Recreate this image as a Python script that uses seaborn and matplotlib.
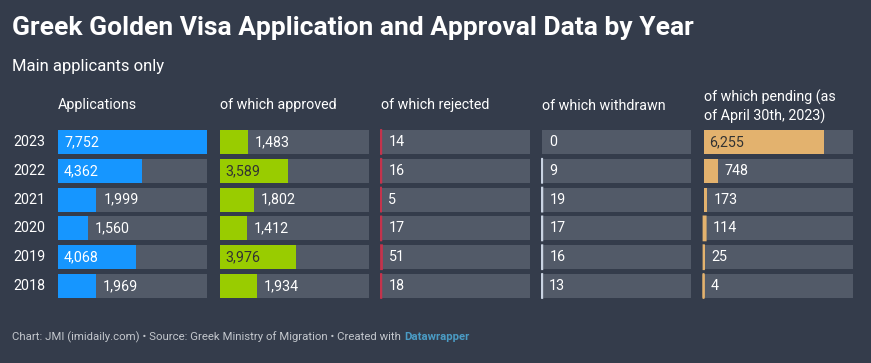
import matplotlib
matplotlib.use("Agg")
import matplotlib.pyplot as plt
import seaborn as sns
import pandas as pd
import numpy as np

years = ["2023", "2022", "2021", "2020", "2019", "2018"]
applications = [7752, 4362, 1999, 1560, 4068, 1969]
approved = [1483, 3589, 1802, 1412, 3976, 1934]
rejected = [14, 16, 5, 17, 51, 18]
withdrawn = [0, 9, 19, 17, 16, 13]
pending = [6255, 748, 173, 114, 25, 4]

headers = ["Applications", "of which approved", "of which rejected",
           "of which withdrawn", "of which pending (as\nof April 30th, 2023)"]
series = [applications, approved, rejected, withdrawn, pending]
colors = ["#1696ff", "#99cc00", "#c4334c", "#c9d3e2", "#e3b26e"]
inside_text = ["#ffffff", "#333333", "#333333", "#333333", "#333333"]

BG = "#343c4b"
TRACK = "#525a68"

sns.set_theme(style="white")
plt.rcParams["font.family"] = ["Roboto", "DejaVu Sans"]

W, H = 871, 363
fig = plt.figure(figsize=(W / 100, H / 100), dpi=100)
fig.patch.set_facecolor(BG)

vmax = max(applications)
col_x = [58, 219.5, 381, 542, 703.5]
col_w = 149
top, bot = 130, 298
pitch = (bot - top - 24) / 5
bw = 24 / pitch

fig.text(12 / W, 1 - 28.5 / H, "Greek Golden Visa Application and Approval Data by Year",
         color="white", fontsize=19, fontweight="bold", va="center", ha="left")
fig.text(12 / W, 1 - 66.5 / H, "Main applicants only", color="white",
         fontsize=12, va="center", ha="left")

for yi, yr in enumerate(years):
    fig.text(13 / W, 1 - (top + 12 + yi * pitch) / H, yr, color="white",
             fontsize=10.3, va="center", ha="left")

for ci, (vals, hdr, col, tcol) in enumerate(zip(series, headers, colors, inside_text)):
    ax = fig.add_axes([col_x[ci] / W, 1 - bot / H, col_w / W, (bot - top) / H])
    df = pd.DataFrame({"year": years, "value": vals, "track": [vmax] * len(years)})
    sns.barplot(data=df, x="track", y="year", orient="h", color=TRACK,
                width=bw, ax=ax, saturation=1)
    sns.barplot(data=df, x="value", y="year", orient="h", color=col,
                width=bw, ax=ax, saturation=1)
    # make very thin bars visible with a minimum edge width
    n = len(years)
    for p, v in zip(ax.patches[n:], vals):
        if 0 < v < vmax * 2.5 / col_w:
            p.set_edgecolor(col)
            p.set_linewidth(1.3)
            p.set_snap(False)
            p.set_clip_on(False)
            p.set_joinstyle("miter")
        else:
            p.set_linewidth(0)
    for p in ax.patches[:n]:
        p.set_linewidth(0)
    ax.set_xlim(0, vmax)
    ax.set_ylim(n - 1 + bw / 2, -bw / 2)
    ax.axis("off")
    for yi, v in enumerate(vals):
        lab = f"{v:,}"
        if v > 3000:
            ax.text(vmax * 6 / col_w, yi, lab, color=tcol, fontsize=10.3,
                    va="center", ha="left")
        else:
            ax.text(v + vmax * 7 / col_w, yi, lab, color="white", fontsize=10.3,
                    va="center", ha="left")
    if "\n" in hdr:
        fig.text(col_x[ci] / W, 1 - 106.5 / H, hdr, color="white", fontsize=10.3,
                 va="center", ha="left", linespacing=1.3)
    else:
        fig.text(col_x[ci] / W, 1 - 105.5 / H, hdr, color="white", fontsize=10.3,
                 va="center", ha="left")

t1 = fig.text(12 / W, 1 - 337 / H,
              "Chart: JMI (imidaily.com) \u2022 Source: Greek Ministry of Migration \u2022 Created with ",
              color="#c2c6cc", fontsize=8.2, va="center", ha="left")
fig.canvas.draw()
bb = t1.get_window_extent(renderer=fig.canvas.get_renderer())
fig.text(bb.x1 / W, 1 - 337 / H, "Datawrapper", color="#4a9bc4", fontsize=8.2,
         fontweight="bold", va="center", ha="left")

fig.savefig("out.png", dpi=100, facecolor=BG)
